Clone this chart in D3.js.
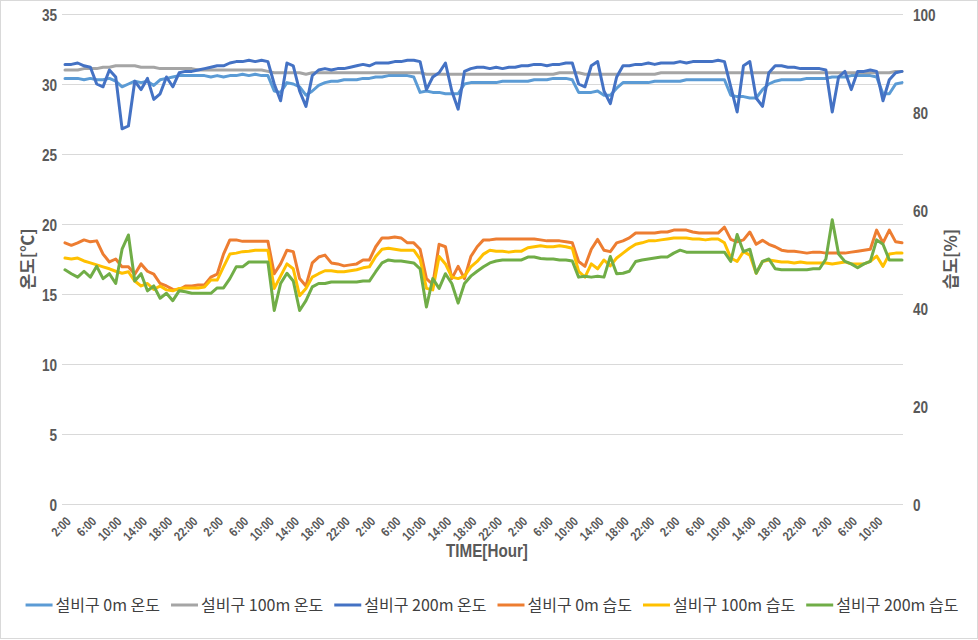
<!DOCTYPE html>
<html><head><meta charset="utf-8">
<script src="https://cdn.jsdelivr.net/npm/d3@7"></script>
<style>body{margin:0;background:#fff} svg{display:block}</style>
</head><body><svg id="c" width="978" height="640"></svg>
<script>
const timeLabels = ["2:00","6:00","10:00","14:00","18:00","22:00","2:00","6:00","10:00","14:00","18:00","22:00","2:00","6:00","10:00","14:00","18:00","22:00","2:00","6:00","10:00","14:00","18:00","22:00","2:00","6:00","10:00","14:00","18:00","22:00","2:00","6:00","10:00"];
const tempTicks = [0,5,10,15,20,25,30,35];
const humTicks = [0,20,40,60,80,100];
const seriesNames = ["설비구 0m 온도","설비구 100m 온도","설비구 200m 온도","설비구 0m 습도","설비구 100m 습도","설비구 200m 습도"];
const seriesColors = ["#5B9BD5","#A5A5A5","#4472C4","#ED7D31","#FFC000","#70AD47"];

// hourly readings, starting at 2:00 of day 1
const temp0m = [30.4,30.4,30.4,30.3,30.4,30.3,30.3,30.4,30.2,29.8,
30.0,30.2,30.1,30.2,29.9,30.3,30.4,30.5,30.6,30.6,
30.6,30.6,30.6,30.5,30.6,30.5,30.6,30.6,30.7,30.6,
30.7,30.6,30.6,29.5,29.4,30.1,30.0,29.8,29.2,29.5,
29.9,30.1,30.2,30.2,30.3,30.3,30.3,30.4,30.4,30.5,
30.5,30.6,30.6,30.6,30.6,30.5,29.4,29.5,29.4,29.4,
29.3,29.3,29.3,30.0,30.1,30.1,30.1,30.1,30.1,30.2,
30.2,30.2,30.2,30.2,30.3,30.3,30.3,30.4,30.4,30.4,
30.3,29.4,29.4,29.4,29.5,29.2,29.2,29.7,30.1,30.1,
30.1,30.1,30.1,30.2,30.2,30.2,30.2,30.2,30.3,30.3,
30.3,30.3,30.3,30.3,30.3,29.2,29.1,29.1,29.0,29.0,
29.6,30.0,30.2,30.3,30.3,30.3,30.3,30.4,30.4,30.4,
30.4,30.5,30.5,30.5,30.6,30.6,30.6,30.6,30.5,29.3,
29.3,30.0,30.1];
const temp100m = [31.0,31.0,31.0,31.1,31.1,31.1,31.2,31.2,31.3,31.3,
31.3,31.3,31.2,31.2,31.2,31.1,31.1,31.1,31.1,31.1,
31.1,31.0,31.0,31.0,31.0,31.0,31.0,31.0,31.0,31.0,
31.0,31.0,30.9,30.8,30.8,30.8,30.8,30.8,30.7,30.8,
30.8,30.8,30.8,30.8,30.8,30.8,30.8,30.8,30.8,30.8,
30.8,30.8,30.8,30.8,30.8,30.8,30.8,30.7,30.7,30.7,
30.7,30.7,30.7,30.7,30.7,30.7,30.7,30.7,30.7,30.7,
30.7,30.7,30.7,30.7,30.7,30.7,30.7,30.7,30.8,30.8,
30.8,30.8,30.7,30.7,30.7,30.7,30.7,30.7,30.7,30.7,
30.7,30.7,30.7,30.7,30.8,30.8,30.8,30.8,30.8,30.8,
30.8,30.8,30.8,30.8,30.8,30.8,30.8,30.8,30.8,30.8,
30.8,30.8,30.8,30.8,30.8,30.8,30.8,30.8,30.8,30.8,
30.8,30.8,30.8,30.8,30.8,30.8,30.8,30.8,30.8,30.8,
30.8,30.9,30.9];
const temp200m = [31.4,31.4,31.5,31.3,31.2,30.0,29.8,31.0,30.5,26.8,
27.0,30.2,29.6,30.4,28.9,29.3,30.5,29.8,30.8,30.9,
30.9,31.0,31.1,31.2,31.3,31.3,31.5,31.6,31.6,31.7,
31.6,31.7,31.6,30.0,28.8,31.5,31.3,29.5,28.4,30.6,
31.0,31.1,31.0,31.1,31.1,31.2,31.3,31.4,31.3,31.5,
31.5,31.5,31.6,31.6,31.7,31.7,31.6,29.6,30.5,30.8,
31.5,29.5,28.2,30.9,31.1,31.2,31.2,31.1,31.2,31.1,
31.2,31.2,31.3,31.3,31.4,31.4,31.3,31.4,31.4,31.5,
31.5,30.0,29.8,31.3,31.6,29.5,28.6,30.5,31.3,31.3,
31.4,31.4,31.5,31.4,31.5,31.5,31.5,31.6,31.5,31.6,
31.6,31.6,31.6,31.7,31.6,29.8,28.0,31.3,31.6,29.0,
28.4,30.8,31.3,31.3,31.2,31.2,31.1,31.1,31.1,31.1,
31.0,28.0,30.5,30.9,29.6,30.9,30.9,31.0,30.9,28.8,
30.3,30.8,30.9];
const hum0m = [53.3,52.8,53.3,53.9,53.5,53.7,51.0,49.4,50.0,48.4,
48.4,46.9,49.0,47.5,46.9,45.0,44.5,43.8,43.7,44.5,
44.5,44.7,44.7,46.3,46.9,51.0,53.9,53.9,53.6,53.6,
53.6,53.6,53.6,47.0,49.0,51.8,51.5,46.0,44.5,49.2,
50.4,50.8,49.2,49.0,48.6,48.8,49.0,49.8,49.8,52.5,
54.3,54.3,54.5,54.3,53.3,53.3,52.0,46.0,44.8,53.0,
52.5,46.0,48.5,46.0,50.5,52.5,53.9,53.9,54.1,54.1,
54.1,54.1,54.1,54.1,54.1,53.9,53.7,53.7,53.7,53.5,
53.3,49.5,48.5,52.0,54.0,51.8,51.5,53.3,53.7,54.3,
55.3,55.3,55.3,55.3,55.5,55.5,55.9,55.9,55.9,55.5,
55.3,55.3,55.3,55.3,56.5,54.0,53.5,53.9,55.5,53.0,
53.8,53.0,52.5,51.8,51.6,51.6,51.4,51.2,51.4,51.4,
51.2,51.2,51.2,51.2,51.4,51.6,51.8,52.0,55.9,53.3,
55.9,53.5,53.3];
const hum100m = [50.2,50.0,50.2,49.6,49.2,48.8,48.4,48.0,47.5,47.1,
47.4,45.5,44.5,45.0,43.8,44.5,43.7,43.5,44.0,44.1,
44.1,44.1,44.3,45.7,45.7,48.4,51.0,51.2,51.5,51.6,
51.8,51.8,51.8,44.0,46.5,49.0,48.0,42.5,44.0,46.3,
47.0,47.6,47.6,47.4,47.4,47.6,47.8,48.2,48.4,50.5,
52.0,52.2,52.0,51.8,51.8,51.8,50.0,44.0,43.7,50.5,
49.0,46.3,46.0,46.5,48.4,49.5,51.0,51.8,51.6,51.6,
51.4,51.6,51.6,52.3,52.5,52.7,52.5,52.5,52.7,52.5,
52.2,47.5,46.3,49.0,48.0,49.8,48.6,50.2,51.2,52.2,
53.0,53.3,53.7,53.7,53.9,54.1,54.3,54.3,54.3,54.1,
54.1,53.9,54.1,54.1,53.3,50.2,49.5,51.5,50.8,47.1,
49.5,49.8,49.6,49.4,49.4,49.2,49.4,49.2,49.2,49.2,
49.2,49.0,49.2,49.4,49.0,49.0,49.0,49.5,50.6,48.5,
51.0,51.2,51.2];
const hum200m = [47.8,47.0,46.3,47.5,46.3,48.5,46.0,47.0,45.0,52.0,
54.9,45.5,47.0,43.5,44.5,42.0,43.0,41.5,43.5,43.3,
43.0,43.0,43.0,43.0,44.1,44.1,46.0,48.4,48.4,49.4,
49.4,49.4,49.4,39.5,45.0,47.1,45.5,39.5,41.5,44.3,
45.0,45.0,45.3,45.3,45.3,45.3,45.3,45.5,45.5,47.4,
49.2,49.8,49.6,49.6,49.4,49.2,48.0,40.2,46.0,44.0,
47.0,45.0,41.0,45.0,46.5,47.5,48.4,49.2,49.6,49.8,
49.8,49.8,49.8,50.4,50.4,50.1,50.0,50.0,49.8,49.8,
49.6,46.3,46.5,46.3,46.5,46.3,50.5,47.0,47.1,47.5,
49.5,49.8,50.0,50.2,50.4,50.4,51.2,51.8,51.4,51.4,
51.4,51.4,51.4,51.4,51.4,49.5,55.0,51.5,52.0,47.1,
49.5,50.0,48.0,47.8,47.8,47.8,47.8,47.8,48.0,48.0,
50.0,58.0,51.0,49.5,49.0,48.2,49.0,49.5,53.9,53.0,
49.8,49.8,49.8];

const svg = d3.select("#c");
const W = 978, H = 640;
const plot = {left: 62, right: 903, top: 14, bottom: 504};
const nPts = temp0m.length;
const x = d3.scaleLinear().domain([0, nPts - 1]).range([65, 902]);
const yT = d3.scaleLinear().domain([0, 35]).range([plot.bottom, plot.top]);
const yH = d3.scaleLinear().domain([0, 100]).range([plot.bottom, plot.top]);

svg.append("rect").attr("x", 0.5).attr("y", 0.5).attr("width", W - 1).attr("height", H - 2)
  .attr("fill", "#fff").attr("stroke", "#d9d9d9");

const tickFont = "'Liberation Sans','Arial',sans-serif";
const tickColor = "#595959";

// left axis with gridlines
const gL = svg.append("g").attr("transform", `translate(${plot.left},0)`)
  .call(d3.axisLeft(yT).tickValues(tempTicks).tickSize(-(plot.right - plot.left)).tickFormat(d3.format("d")));
gL.select(".domain").remove();
gL.selectAll(".tick line").attr("stroke", "#d9d9d9").attr("stroke-width", 1);
gL.selectAll(".tick text").attr("fill", tickColor).attr("font-family", tickFont)
  .attr("font-weight", "bold").attr("font-size", 17).attr("x", 0).attr("dy", "0.36em")
  .attr("transform", "translate(-5,0) scale(0.8,1)");

// right axis
const gR = svg.append("g").attr("transform", `translate(${plot.right},0)`)
  .call(d3.axisRight(yH).tickValues(humTicks).tickSize(0).tickFormat(d3.format("d")));
gR.select(".domain").remove();
gR.selectAll(".tick text").attr("fill", tickColor).attr("font-family", tickFont)
  .attr("font-weight", "bold").attr("font-size", 17).attr("x", 0).attr("dy", "0.36em")
  .attr("transform", "translate(10,0) scale(0.8,1)");

// bottom axis
const tickIdx = timeLabels.map((d, i) => i * 4);
const gB = svg.append("g").attr("transform", `translate(0,${plot.bottom})`)
  .call(d3.axisBottom(x).tickValues(tickIdx).tickSize(0).tickFormat((d, i) => timeLabels[i]));
gB.select(".domain").attr("stroke", "#d9d9d9").attr("d", `M${plot.left},0.5H${plot.right}`);
gB.selectAll(".tick text").attr("fill", tickColor).attr("font-family", tickFont)
  .attr("font-weight", "bold").attr("font-size", 13)
  .attr("text-anchor", "end").attr("x", 0).attr("y", 0).attr("dy", "0.35em")
  .attr("transform", "translate(3,15) rotate(-45) scale(0.82,1)");

// series
const tempSeries = [temp0m, temp100m, temp200m];
const humSeries = [hum0m, hum100m, hum200m];
const lineT = d3.line().x((d, i) => x(i)).y(d => yT(d));
const lineH = d3.line().x((d, i) => x(i)).y(d => yH(d));
const gS = svg.append("g");
tempSeries.forEach((s, k) => {
  gS.append("path").datum(s).attr("d", lineT).attr("fill", "none")
    .attr("stroke", seriesColors[k]).attr("stroke-width", 3).attr("stroke-linejoin", "round").attr("stroke-linecap", "round");
});
humSeries.forEach((s, k) => {
  gS.append("path").datum(s).attr("d", lineH).attr("fill", "none")
    .attr("stroke", seriesColors[k + 3]).attr("stroke-width", 3).attr("stroke-linejoin", "round").attr("stroke-linecap", "round");
});

// axis titles
const titleFont = "'Noto Sans CJK KR','Noto Sans',sans-serif";
svg.append("text").attr("transform", `translate(34,259) rotate(-90)`).attr("text-anchor", "middle")
  .attr("font-family", titleFont).attr("font-weight", "bold").attr("font-size", 17).attr("fill", tickColor).text("온도[℃]");
svg.append("text").attr("transform", `translate(957,259) rotate(-90)`).attr("text-anchor", "middle")
  .attr("font-family", titleFont).attr("font-weight", "bold").attr("font-size", 17).attr("fill", tickColor).text("습도[%]");
svg.append("text").attr("text-anchor", "middle").attr("x", 0).attr("y", 0)
  .attr("transform", "translate(487,557) scale(0.8,1)")
  .attr("font-family", tickFont).attr("font-weight", "bold").attr("font-size", 19).attr("fill", tickColor).text("TIME[Hour]");

// legend
const gLeg = svg.append("g");
let cx = 0;
seriesNames.forEach((name, k) => {
  const g = gLeg.append("g");
  g.append("line").attr("x1", cx).attr("x2", cx + 27).attr("y1", 0).attr("y2", 0)
    .attr("stroke", seriesColors[k]).attr("stroke-width", 3);
  const t = g.append("text").attr("x", cx + 30).attr("y", 0).attr("dy", "0.35em")
    .attr("font-family", titleFont).attr("font-size", 16)
    .attr("fill", "#404040").text(name);
  const w = t.node().getComputedTextLength();
  cx += 30 + w + 11;
});
const totalW = cx - 11;
gLeg.attr("transform", `translate(${492 - totalW / 2},605)`);
</script></body></html>
